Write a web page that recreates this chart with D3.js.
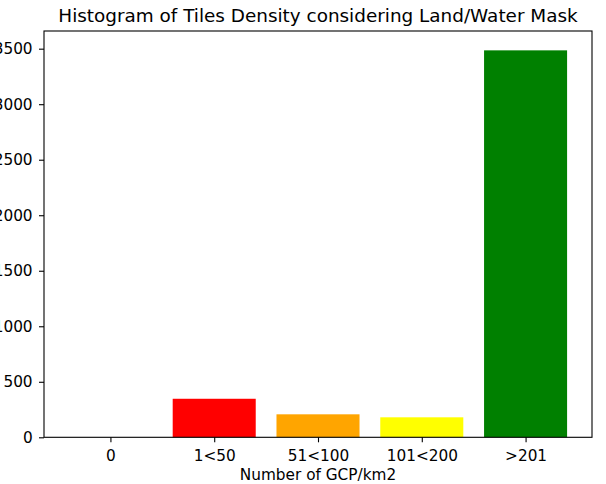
<!DOCTYPE html>
<html>
<head>
<meta charset="utf-8">
<script src="https://cdn.jsdelivr.net/npm/d3@7"></script>
<style>
  html, body { margin: 0; padding: 0; background: #fff; }
  svg { display: block; }
  text { font-family: "DejaVu Sans", sans-serif; fill: #000; }
</style>
</head>
<body>
<svg id="chart" width="606" height="484"></svg>
<script>
// Tile counts per GCP density class
const categories = ["0", "1<50", "51<100", "101<200", ">201"];
const counts = [0, 347, 207, 180, 3485];
const barColors = ["#1f77b4", "red", "orange", "yellow", "green"];
const yTicks = [0, 500, 1000, 1500, 2000, 2500, 3000, 3500];

const W = 606, H = 484;
const margin = { top: 31, right: 14, bottom: 46.7, left: 44 };
const innerW = W - margin.left - margin.right;
const innerH = H - margin.top - margin.bottom;
const tickFont = 15.3;

const svg = d3.select("#chart");
const g = svg.append("g").attr("transform", `translate(${margin.left},${margin.top})`);

// Bars sit at integer positions with width 0.8, padded by 5% of the data span
const barW = 0.8;
const lo = -barW / 2, hi = categories.length - 1 + barW / 2;
const pad = (hi - lo) * 0.05;
const x = d3.scaleLinear().domain([lo - pad, hi + pad]).range([0, innerW]);
const y = d3.scaleLinear().domain([0, d3.max(counts) * 1.05]).range([innerH, 0]);

g.selectAll("rect.bar")
  .data(counts)
  .join("rect")
  .attr("class", "bar")
  .attr("x", (d, i) => x(i - barW / 2))
  .attr("width", (d, i) => x(i + barW / 2) - x(i - barW / 2))
  .attr("y", d => y(d))
  .attr("height", d => y(0) - y(d))
  .attr("fill", (d, i) => barColors[i]);

// Axes
const xAxis = d3.axisBottom(x)
  .tickValues(d3.range(categories.length))
  .tickFormat(i => categories[i])
  .tickSize(5).tickPadding(7.5);
const yAxis = d3.axisLeft(y)
  .tickValues(yTicks)
  .tickFormat(d3.format("d"))
  .tickSize(5).tickPadding(6.4);

const gx = g.append("g").attr("transform", `translate(0,${innerH})`).call(xAxis);
const gy = g.append("g").call(yAxis);
[gx, gy].forEach(a => {
  a.attr("font-family", null).attr("font-size", null);
  a.select(".domain").remove();
  a.selectAll(".tick line").attr("stroke", "#000").attr("stroke-width", 1.1);
  a.selectAll(".tick text").attr("font-size", tickFont).attr("fill", "#000")
    .style("font-family", "'DejaVu Sans', sans-serif");
});

// Frame
g.append("rect")
  .attr("x", 0).attr("y", 0)
  .attr("width", innerW).attr("height", innerH)
  .attr("fill", "none").attr("stroke", "#000").attr("stroke-width", 1.1);

// Title and axis label
svg.append("text")
  .attr("x", margin.left + innerW / 2).attr("y", 22)
  .attr("text-anchor", "middle").attr("font-size", 18.4)
  .text("Histogram of Tiles Density considering Land/Water Mask");

svg.append("text")
  .attr("x", margin.left + innerW / 2).attr("y", 480)
  .attr("text-anchor", "middle").attr("font-size", tickFont)
  .text("Number of GCP/km2");
</script>
</body>
</html>
